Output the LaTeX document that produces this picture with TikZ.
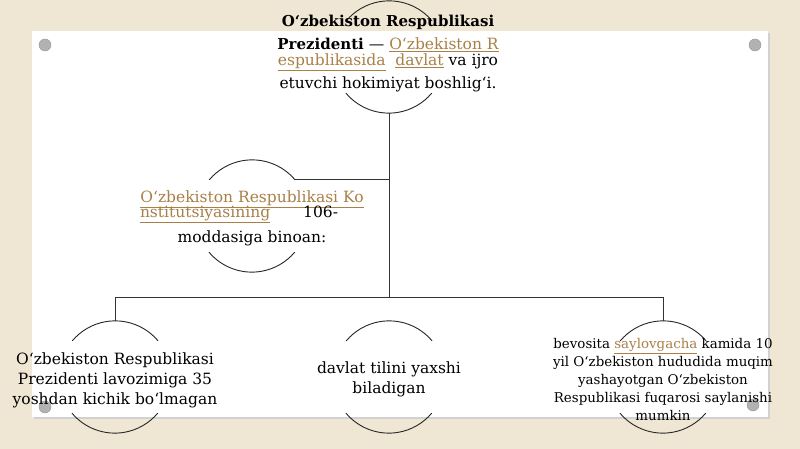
\documentclass[tikz,border=0pt]{standalone}
\usepackage{fontspec}
\setmainfont{DejaVu Serif}
\definecolor{lnk}{RGB}{168,128,72}
\definecolor{beige}{RGB}{239,230,211}
\newcommand{\lnk}[1]{\textcolor{lnk}{\underline{#1}}}

\begin{document}
\begin{tikzpicture}[x=1pt,y=1pt]
\tikzstyle{ring}=[circle, draw=none, minimum size=112pt, inner sep=0pt]
\tikzstyle{txt}=[align=center, inner sep=0pt, font=\fontsize{15.5}{23}\selectfont]
\tikzstyle{small}=[align=center, inner sep=0pt, font=\fontsize{13.4}{18}\selectfont]
\tikzstyle{pin}=[circle, fill=gray!60, draw=gray!85, minimum size=12pt, inner sep=0pt]
\tikzstyle{rim}=[draw=black!85, line width=0.9pt]
\tikzstyle{wire}=[draw=black!80, line width=0.8pt]

% board
\useasboundingbox (0,0) rectangle (800,449);
\fill[beige] (0,0) rectangle (800,449);
\fill[black!18] (34,30) rectangle (770,416);
\fill[white] (32,32) rectangle (768,418);
\node[pin] (pinA) at (45,404) {};
\node[pin] (pinB) at (755,404) {};
\node[pin] (pinC) at (45,42) {};
\node[pin] (pinD) at (753,44) {};

% rings
\node[ring] (pres) at (389,392) {};
\node[ring] (basis) at (252,233) {};
\node[ring] (age) at (115,72) {};
\node[ring] (lang) at (389,72) {};
\node[ring] (resid) at (663,72) {};
\foreach \n in {pres,basis,age,lang,resid} {
  \draw[rim] (\n.40) arc[start angle=40, end angle=140, radius=56];
  \draw[rim] (\n.220) arc[start angle=220, end angle=320, radius=56];
}

% connectors
\coordinate (bus) at (389,152);
\draw[wire] (pres.south) -- (bus);
\draw[wire] (basis.40) -- (basis.40 -| pres.south);
\draw[wire] (age.north) -- (age.north |- bus) -- (resid.north |- bus) -- (resid.north);

% texts
\node[txt] (presT) at (388,395) {\textbf{\fontsize{15}{23}\selectfont O‘zbekiston Respublikasi}\\
  \textbf{\fontsize{15}{23}\selectfont Prezidenti} — \lnk{O‘zbekiston R}\\[-7pt]
  \lnk{espublikasida}\ \ \lnk{davlat} va ijro\\
  etuvchi hokimiyat boshlig‘i.};
\node[txt] (basisT) at (252,231) {\lnk{O‘zbekiston Respublikasi Ko}\\[-8pt]
  \makebox[224pt][l]{\lnk{nstitutsiyasining}\hspace{33pt}106-}\\[2pt]
  moddasiga binoan:};
\node[txt, font=\fontsize{15.5}{20}\selectfont] (ageT) at (115,69) {O‘zbekiston Respublikasi\\
  Prezidenti lavozimiga 35\\
  yoshdan kichik bo‘lmagan};
\node[txt, font=\fontsize{15.5}{20}\selectfont] (langT) at (389,70) {davlat tilini yaxshi\\biladigan};
\node[small] (residT) at (663,69) {bevosita \lnk{saylovgacha} kamida 10\\
  yil O‘zbekiston hududida muqim\\
  yashayotgan O‘zbekiston\\
  Respublikasi fuqarosi saylanishi\\
  mumkin};
\end{tikzpicture}
\end{document}
